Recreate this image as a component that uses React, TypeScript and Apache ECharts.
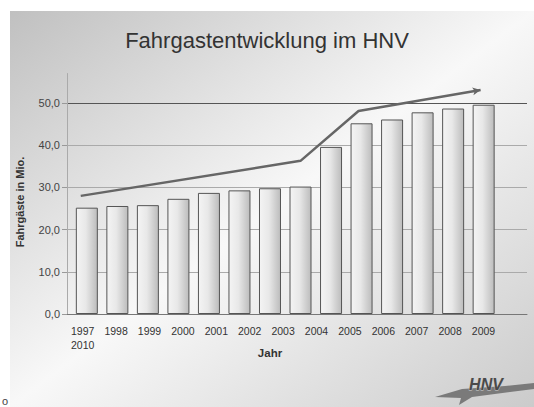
import React, { useEffect, useRef } from "react";
import * as echarts from "echarts";

const years = ["1997", "1998", "1999", "2000", "2001", "2002", "2003", "2004", "2005", "2006", "2007", "2008", "2009", "2010"];
const passengers = [25.2, 25.6, 25.8, 27.3, 28.7, 29.3, 29.8, 30.2, 39.6, 45.2, 46.1, 47.8, 48.7, 49.6];
const trendX = [1996.8, 2004.0, 2005.9, 2009.9];
const trendValues = [28.0, 36.3, 48.1, 53.1];
const yTicks = [0, 10, 20, 30, 40, 50];
const titleText = "Fahrgastentwicklung im HNV";
const yName = "Fahrgäste in Mio.";
const xName = "Jahr";

const FONT = "'Liberation Sans', Arial, sans-serif";

export default function App() {
  const ref = useRef<HTMLDivElement>(null);
  useEffect(() => {
    if (!ref.current) return;
    const chart = echarts.init(ref.current, undefined, { renderer: "svg" });
    const barData = years.map((y, i) => [Number(y), passengers[i]]);
    const trendData: any[] = trendX.map((x, i) => [x, trendValues[i]]);
    const last = trendData.length - 1;
    trendData[last] = {
      value: trendData[last],
      symbol: "arrow",
      symbolSize: [6, 8],
      symbolRotate: -80,
      itemStyle: { color: "#666" },
    };
    const labelYears = years.slice(0, 13);
    chart.setOption({
      animation: false,
      backgroundColor: "#ffffff",
      title: {
        text: titleText,
        left: "center",
        top: 24,
        textStyle: { fontFamily: FONT, fontSize: 22, fontWeight: "normal", color: "#333" },
      },
      grid: [
        { left: 67, right: 7, top: 73.5, bottom: 93 },
        { left: 66, width: 434.2, top: 73.5, bottom: 93 },
      ],
      xAxis: [
        {
          type: "value",
          gridIndex: 0,
          min: 1996.35,
          max: 2011.42,
          axisLine: { show: true, lineStyle: { color: "#777", width: 1 } },
          axisTick: { show: false },
          axisLabel: { show: false },
          splitLine: { show: false },
        },
        {
          type: "category",
          gridIndex: 1,
          data: labelYears,
          axisLine: { show: false },
          axisTick: { show: false },
          axisLabel: {
            interval: 0,
            margin: 10,
            fontFamily: FONT,
            fontSize: 10.5,
            lineHeight: 14,
            color: "#333",
            formatter: (v: string, i: number) => (i === 0 ? `${v}\n${years[13]}` : v),
          },
        },
      ],
      yAxis: [
        {
          type: "value",
          gridIndex: 0,
          min: 0,
          max: 57,
          interval: 10,
          axisLine: { show: true, lineStyle: { color: "#aaa" } },
          axisTick: { show: true, length: 5, lineStyle: { color: "#999" }, customValues: yTicks },
          axisLabel: {
            customValues: yTicks,
            margin: 7,
            fontFamily: FONT,
            fontSize: 11,
            color: "#444",
            formatter: (v: number) => (v % 10 === 0 ? v.toFixed(1).replace(".", ",") : ""),
          },
          splitLine: {
            show: true,
            lineStyle: { color: ["#777", "#aaa", "#aaa", "#aaa", "#aaa", "#555", "transparent"], width: 1 },
          },
        },
        { type: "value", gridIndex: 1, min: 0, max: 1, show: false },
      ],
      graphic: [
        {
          type: "rect",
          z: -10,
          shape: { x: 10, y: 11, width: 524, height: 396 },
          style: {
            fill: new echarts.graphic.LinearGradient(0, 0, 1, 1, [
              { offset: 0, color: "#c0c0c0" },
              { offset: 0.5, color: "#f8f8f8" },
              { offset: 1, color: "#cbcbcb" },
            ]),
          },
        },
        {
          type: "text",
          x: 20,
          y: 202,
          rotation: Math.PI / 2,
          style: { text: yName, font: `bold 11px ${FONT}`, fill: "#333", align: "center", verticalAlign: "middle" },
        },
        {
          type: "text",
          x: 270,
          y: 353,
          style: { text: xName, font: `bold 11.5px ${FONT}`, fill: "#333", align: "center", verticalAlign: "middle" },
        },
        {
          type: "polygon",
          shape: {
            points: [
              [435, 397],
              [462, 389],
              [505, 386],
              [534, 383],
              [534, 389],
              [472, 397],
              [459, 405],
              [461, 398],
            ],
          },
          style: { fill: "#7a7a7a" },
        },
        {
          type: "text",
          x: 486,
          y: 384,
          style: {
            text: "HNV",
            font: `italic 900 16px ${FONT}`,
            fill: "#4a4a4a",
            stroke: "#cfcfcf",
            lineWidth: 0.8,
            align: "center",
            verticalAlign: "middle",
          },
        },
        {
          type: "text",
          x: 2,
          y: 401,
          style: { text: "o", font: `11px ${FONT}`, fill: "#444", align: "left", verticalAlign: "middle" },
        },
      ],
      series: [
        {
          type: "bar",
          xAxisIndex: 0,
          yAxisIndex: 0,
          data: barData,
          barWidth: 22,
          itemStyle: {
            color: new echarts.graphic.LinearGradient(0, 0, 1, 0, [
              { offset: 0, color: "#f4f4f4" },
              { offset: 0.45, color: "#e8e8e8" },
              { offset: 1, color: "#bcbcbc" },
            ]),
            borderColor: "#555",
            borderWidth: 1,
          },
        },
        {
          type: "line",
          xAxisIndex: 0,
          yAxisIndex: 0,
          data: trendData,
          symbol: "none",
          showSymbol: true,
          lineStyle: { color: "#666", width: 2.5 },
          itemStyle: { color: "#666" },
          z: 5,
        },
      ],
    });
    return () => chart.dispose();
  }, []);
  return (
    <div
      ref={ref}
      style={{ position: "absolute", left: 0, top: 0, width: 534, height: 407 }}
    />
  );
}
